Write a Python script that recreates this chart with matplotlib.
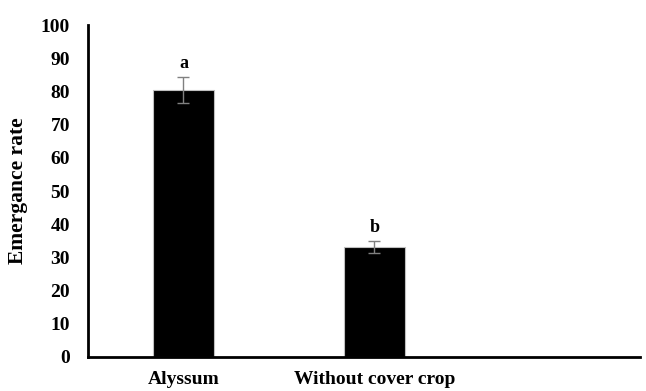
import matplotlib
matplotlib.use('Agg')
import matplotlib.pyplot as plt
import numpy as np

# Data
categories = ['Alyssum', 'Without cover crop']
emergence = [80.5, 33.0]
errors = [3.9, 1.8]
letters = ['a', 'b']

plt.rcParams['font.family'] = ['Liberation Serif', 'DejaVu Serif']
plt.rcParams['font.weight'] = 'bold'

fig = plt.figure(figsize=(6.46, 3.91), dpi=100)
ax = fig.add_axes([0.1362, 0.087, 0.8545, 0.849])

x = np.arange(len(categories))
ax.bar(x, emergence, width=0.32, color='black', edgecolor='#bfbfbf', linewidth=0.8, zorder=2)
ax.errorbar(x, emergence, yerr=errors, fmt='none', ecolor='#808080',
            elinewidth=1, capsize=4, capthick=1, zorder=3)

# significance letters above the error bars
for xi, val, err, lab in zip(x, emergence, errors, letters):
    ax.text(xi, val + err + 1.5, lab, ha='center', va='bottom',
            fontsize=13, fontweight='bold')

ax.set_xlim(-0.5, 2.39)
ax.set_ylim(0, 100)
ax.set_yticks(np.arange(0, 101, 10))
ax.set_xticks(x)
ax.set_xticklabels(categories, fontsize=14, fontweight='bold')
ax.tick_params(axis='y', length=0, pad=13, labelsize=14)
ax.tick_params(axis='x', length=0, pad=10)

ax.spines['top'].set_visible(False)
ax.spines['right'].set_visible(False)
ax.spines['left'].set_linewidth(2)
ax.spines['bottom'].set_linewidth(2)

ax.set_ylabel('Emergance rate', fontsize=15.5, fontweight='bold', labelpad=9)

plt.savefig('out.png', dpi=100)
plt.close()
